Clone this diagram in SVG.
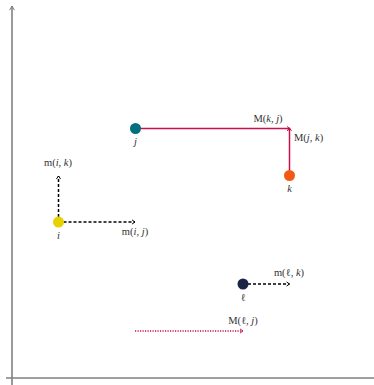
<svg xmlns="http://www.w3.org/2000/svg" width="374" height="385" viewBox="0 0 374 385">
<style>
text{font-family:"Liberation Serif","DejaVu Serif",serif;font-size:10.5px;fill:#333}
.it{font-style:italic}
.axis{stroke:#808080;stroke-width:1.6;fill:none}
.crim{stroke:#c8104c;stroke-width:1.5;fill:none}
.dash{stroke:#000;stroke-width:1.5;stroke-dasharray:3 2;fill:none}
.dot{stroke:#c8104c;stroke-width:1.6;stroke-dasharray:1.2 1.3;fill:none}
</style>
<defs>
<marker id="ahk" viewBox="0 0 10 10" refX="8" refY="5" markerWidth="6" markerHeight="6" orient="auto" markerUnits="userSpaceOnUse">
<path d="M3,1.5 L8,5 L3,8.5" fill="none" stroke="#000" stroke-width="1.6"/>
</marker>
<marker id="ahc" viewBox="0 0 10 10" refX="8" refY="5" markerWidth="6" markerHeight="6" orient="auto" markerUnits="userSpaceOnUse">
<path d="M3,1.5 L8,5 L3,8.5" fill="none" stroke="#c8104c" stroke-width="1.6"/>
</marker>
<marker id="aha" viewBox="0 0 10 10" refX="8" refY="5" markerWidth="7" markerHeight="7" orient="auto" markerUnits="userSpaceOnUse">
<path d="M2,1.5 L8,5 L2,8.5" fill="none" stroke="#808080" stroke-width="1.4"/>
</marker>
</defs>
<g id="axes">
<line class="axis" x1="12" y1="385" x2="12" y2="6" marker-end="url(#aha)"/>
<line class="axis" x1="6" y1="378" x2="374" y2="378"/>
</g>
<g id="connectors">
<line class="crim" x1="135.5" y1="128.5" x2="290" y2="128.5" marker-end="url(#ahc)"/>
<line class="crim" x1="289.5" y1="175.5" x2="289.5" y2="128" marker-end="url(#ahc)"/>
<line class="dash" x1="58.5" y1="222" x2="135" y2="222" marker-end="url(#ahk)"/>
<line class="dash" x1="58.5" y1="222" x2="58.5" y2="176" marker-end="url(#ahk)"/>
<line class="dash" x1="243" y1="284" x2="289.5" y2="284" marker-end="url(#ahk)"/>
<line class="dot" x1="135" y1="331" x2="243" y2="331" marker-end="url(#ahc)"/>
<text x="268" y="122" text-anchor="middle">M(<tspan class="it">k</tspan>, <tspan class="it">j</tspan>)</text>
<text x="294" y="141">M(<tspan class="it">j</tspan>, <tspan class="it">k</tspan>)</text>
<text x="58" y="166" text-anchor="middle">m(<tspan class="it">i</tspan>, <tspan class="it">k</tspan>)</text>
<text x="135" y="235" text-anchor="middle">m(<tspan class="it">i</tspan>, <tspan class="it">j</tspan>)</text>
<text x="289" y="276" text-anchor="middle">m(ℓ, <tspan class="it">k</tspan>)</text>
<text x="243" y="324" text-anchor="middle">M(ℓ, <tspan class="it">j</tspan>)</text>
</g>
<g id="node-j">
<circle cx="135.5" cy="128.5" r="5.5" fill="#00707f"/>
<text class="it" x="135.5" y="145" text-anchor="middle">j</text>
</g>
<g id="node-k">
<circle cx="289.5" cy="175.5" r="5.5" fill="#f25a12"/>
<text class="it" x="289.5" y="192" text-anchor="middle">k</text>
</g>
<g id="node-i">
<circle cx="58.5" cy="222" r="5.5" fill="#e6d200"/>
<text class="it" x="58.5" y="239" text-anchor="middle">i</text>
</g>
<g id="node-l">
<circle cx="243" cy="284" r="5.5" fill="#1b2444"/>
<text x="243" y="301" text-anchor="middle">ℓ</text>
</g>
</svg>
